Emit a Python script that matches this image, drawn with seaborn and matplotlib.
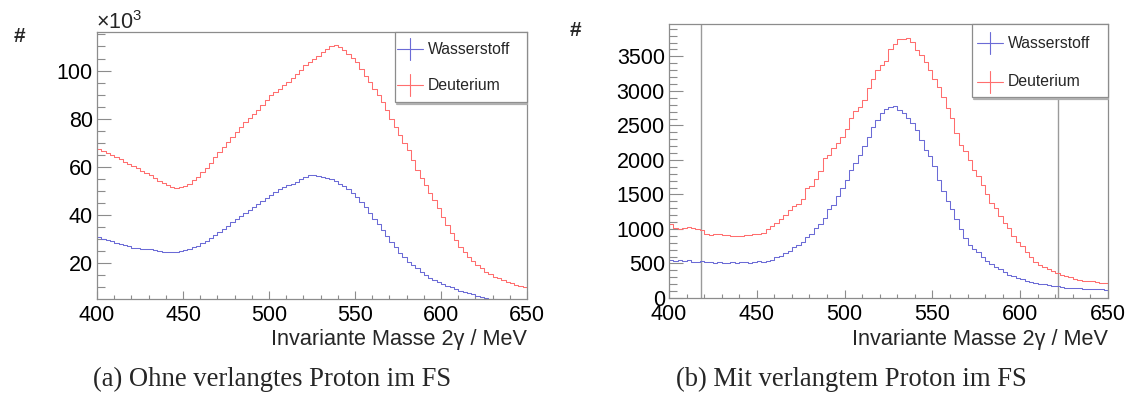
import numpy as np
import pandas as pd
import matplotlib
matplotlib.use("Agg")
import matplotlib.pyplot as plt
from matplotlib.lines import Line2D
from matplotlib.patches import Rectangle
from matplotlib.ticker import MultipleLocator
import seaborn as sns

# ---------------- data ----------------
bin_edges = [400 + 2.5 * i for i in range(101)]          # MeV
series_names = ["Wasserstoff", "Deuterium"]
series_colors = ["#6b6bd6", "#ff6e6e"]

# (a) without required proton, counts in units of 10^3
left_wasserstoff_k = [
    30.8, 30.2, 29.7, 29.1, 28.6, 28.0, 27.5, 27.0, 26.5, 26.3,
    26.1, 26.0, 25.8, 25.5, 25.2, 24.9, 24.6, 24.5, 24.6, 25.0,
    25.5, 26.0, 26.6, 27.4, 28.3, 29.4, 30.5, 31.6, 32.8, 34.2,
    35.7, 37.2, 38.6, 39.8, 41.0, 42.2, 43.4, 44.6, 45.8, 47.1,
    48.3, 49.6, 50.8, 51.6, 52.4, 53.1, 53.8, 54.9, 55.9, 56.5,
    56.8, 56.4, 55.9, 55.5, 54.9, 54.1, 53.1, 52.0, 50.8, 49.3,
    47.6, 45.5, 43.4, 41.0, 38.6, 36.2, 33.8, 31.4, 29.0, 26.6,
    24.4, 22.5, 20.7, 19.3, 17.9, 16.5, 15.2, 14.1, 13.1, 12.2,
    11.4, 10.7, 10.1, 9.4, 8.7, 8.1, 7.6, 7.1, 6.6, 6.2,
    5.8, 5.4, 5.1, 4.8, 4.6, 4.4, 4.2, 4.0, 3.9, 3.7,
]
left_deuterium_k = [
    67.3, 66.5, 65.7, 64.9, 64.1, 63.1, 62.2, 61.3, 60.4, 59.4,
    58.5, 57.5, 56.6, 55.4, 54.3, 53.3, 52.4, 51.8, 51.4, 51.5,
    52.0, 53.0, 54.5, 56.0, 57.7, 59.7, 61.7, 64.0, 66.2, 68.3,
    70.3, 72.4, 74.5, 76.6, 78.6, 80.4, 82.1, 83.8, 85.5, 87.6,
    89.7, 91.0, 92.4, 93.8, 95.2, 96.9, 98.6, 100.4, 102.1, 103.5,
    104.8, 106.2, 107.6, 109.0, 110.3, 110.6, 109.9, 108.6, 106.9, 105.2,
    103.4, 100.7, 97.9, 95.2, 92.4, 89.7, 86.9, 83.5, 80.0, 76.6,
    73.1, 70.0, 66.9, 62.8, 58.6, 55.5, 52.4, 49.3, 46.2, 42.8,
    39.3, 35.8, 32.4, 29.6, 26.9, 24.8, 22.8, 21.0, 19.3, 17.9,
    16.6, 15.5, 14.5, 13.8, 13.1, 12.4, 11.7, 11.1, 10.6, 10.3,
]

# (b) with required proton, counts
right_wasserstoff = [
    556, 542, 556, 537, 547, 527, 527, 537, 518, 527,
    508, 518, 508, 508, 518, 508, 527, 518, 508, 527,
    537, 527, 542, 556, 590, 614, 652, 686, 733, 767,
    805, 877, 925, 1007, 1069, 1165, 1285, 1342, 1477, 1596,
    1716, 1860, 1956, 2076, 2196, 2339, 2483, 2579, 2685, 2733,
    2761, 2780, 2723, 2685, 2603, 2531, 2435, 2291, 2148, 2052,
    1908, 1716, 1548, 1405, 1285, 1141, 997, 863, 767, 709,
    662, 590, 542, 494, 446, 422, 374, 336, 316, 288,
    268, 249, 230, 221, 206, 197, 182, 173, 168, 158,
    149, 144, 149, 139, 134, 134, 129, 134, 125, 120,
]
right_deuterium = [
    1069, 1021, 997, 1007, 1035, 1007, 997, 988, 925, 911,
    920, 920, 911, 911, 892, 901, 901, 911, 911, 920,
    920, 935, 997, 1045, 1093, 1151, 1198, 1275, 1333, 1357,
    1429, 1596, 1620, 1726, 1836, 2028, 2076, 2172, 2244, 2339,
    2445, 2603, 2713, 2771, 2867, 3035, 3178, 3298, 3370, 3432,
    3610, 3682, 3754, 3754, 3768, 3706, 3586, 3514, 3418, 3298,
    3178, 3059, 2915, 2747, 2603, 2387, 2220, 2124, 2004, 1860,
    1764, 1644, 1500, 1381, 1309, 1189, 1093, 1007, 901, 805,
    757, 662, 590, 527, 479, 446, 422, 384, 364, 336,
    316, 302, 278, 264, 249, 240, 240, 230, 221, 216,
]
cut_lines = [418.5, 621.5]

x_label = "Invariante Masse 2γ / MeV"
captions = ["(a) Ohne verlangtes Proton im FS", "(b) Mit verlangtem Proton im FS"]

# ---------------- style ----------------
sns.set_style("white")
plt.rcParams["font.family"] = ["Liberation Sans", "DejaVu Sans"]
plt.rcParams["mathtext.fontset"] = "custom"
plt.rcParams["mathtext.rm"] = "Liberation Sans"
plt.rcParams["mathtext.it"] = "Liberation Sans:italic"

W, H = 1133, 399
fig = plt.figure(figsize=(W / 100, H / 100), dpi=100)


def px_axes(x0, y0, x1, y1):
    return fig.add_axes([x0 / W, 1 - y1 / H, (x1 - x0) / W, (y1 - y0) / H])


axL = px_axes(97, 32, 527, 299)
axR = px_axes(669, 24, 1108, 298)

centers = [(a + b) / 2 for a, b in zip(bin_edges[:-1], bin_edges[1:])]
GREY = "#8c8c8c"
TICK_FS = 15.5


def draw_panel(ax, vals_list):
    for name, vals, col in zip(series_names, vals_list, series_colors):
        df = pd.DataFrame({"mass": centers, "count": vals})
        sns.histplot(data=df, x="mass", weights="count", bins=bin_edges,
                     element="step", fill=False, color=col, linewidth=0.75,
                     ax=ax)
    ax.set_xlabel("")
    ax.set_ylabel("")
    ax.set_xlim(400, 650)
    for s in ax.spines.values():
        s.set_color(GREY)
        s.set_linewidth(0.9)
    ax.xaxis.set_major_locator(MultipleLocator(50))
    ax.xaxis.set_minor_locator(MultipleLocator(10))
    ax.tick_params(axis="both", which="both", direction="in", colors=GREY,
                   labelcolor="black", labelsize=TICK_FS, width=0.8)
    ax.tick_params(axis="x", which="major", length=6, pad=4)
    ax.tick_params(axis="x", which="minor", length=2.6)
    ax.tick_params(axis="y", which="major", length=10, pad=3)
    ax.tick_params(axis="y", which="minor", length=5.4)
    ax.tick_params(left=True, bottom=True, which="both")


draw_panel(axL, [left_wasserstoff_k, left_deuterium_k])
axL.set_ylim(5.2, 116)
axL.yaxis.set_major_locator(MultipleLocator(20))
axL.yaxis.set_minor_locator(MultipleLocator(5))

draw_panel(axR, [right_wasserstoff, right_deuterium])
axR.set_ylim(0, 3969)
axR.yaxis.set_major_locator(MultipleLocator(500))
axR.yaxis.set_minor_locator(MultipleLocator(100))
for xc in cut_lines:
    axR.axvline(xc, color="#9a9a9a", linewidth=1.0, zorder=1)


def legend_box(x0, y0, x1, y1, hx, rows):
    fig.add_artist(Rectangle((x0 / W, 1 - y1 / H), (x1 - x0) / W, (y1 - y0) / H,
                             transform=fig.transFigure, facecolor="white",
                             edgecolor=GREY, linewidth=0.9, zorder=5))
    fig.add_artist(Line2D([x0 / W + 0.0015, x1 / W], [1 - (y1 + 1.5) / H] * 2,
                          transform=fig.transFigure, color="#b0b0b0",
                          linewidth=1.6, zorder=5))
    for (name, col), yc in zip(zip(series_names, series_colors), rows):
        fig.add_artist(Line2D([hx / W, (hx + 26) / W], [1 - yc / H] * 2,
                              transform=fig.transFigure, color=col,
                              linewidth=0.8, zorder=6))
        fig.add_artist(Line2D([(hx + 13) / W] * 2,
                              [1 - (yc - 11) / H, 1 - (yc + 11) / H],
                              transform=fig.transFigure, color=col,
                              linewidth=0.8, zorder=6))
        fig.text((hx + 31) / W, 1 - yc / H, name, fontsize=11.3, va="center",
                 ha="left", zorder=7)


legend_box(395, 32, 527, 102, 397, [49, 85])
legend_box(972, 24, 1108, 97, 977, [43, 82])

# axis titles
fig.text(527 / W, 1 - 339 / H, x_label, ha="right", va="center", fontsize=15.6)
fig.text(1108 / W, 1 - 339 / H, x_label, ha="right", va="center", fontsize=15.6)
fig.text(19 / W, 1 - 37 / H, "#", ha="center", va="center", fontsize=15,
         fontweight="bold")
fig.text(575 / W, 1 - 31 / H, "#", ha="center", va="center", fontsize=15,
         fontweight="bold")
fig.text(96 / W, 1 - 29 / H, r"$\times$10$^{3}$", ha="left", va="baseline",
         fontsize=15.5)

# captions
fig.text(272 / W, 1 - 379 / H, captions[0], ha="center", va="center",
         fontsize=19.2, family=["Liberation Serif", "DejaVu Serif"])
fig.text(851 / W, 1 - 379 / H, captions[1], ha="center", va="center",
         fontsize=19.2, family=["Liberation Serif", "DejaVu Serif"])

fig.savefig("out.png", dpi=100)
